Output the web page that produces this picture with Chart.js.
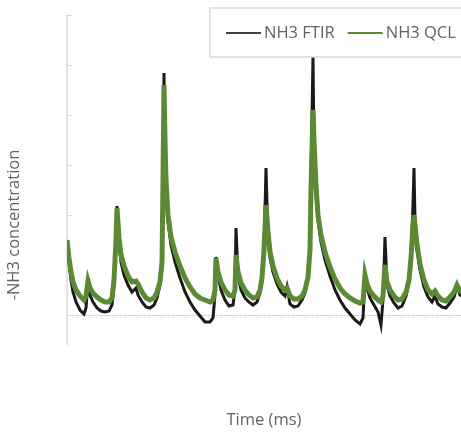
<!DOCTYPE html>
<html>
<head>
<meta charset="utf-8">
<title>NH3 concentration</title>
<script src="https://cdn.jsdelivr.net/npm/chart.js@4.4.1/dist/chart.umd.min.js"></script>
<style>
  html, body { margin: 0; padding: 0; background: #fff; overflow: hidden; }
  #wrap { width: 500px; height: 432px; }
</style>
</head>
<body>
<div id="wrap"><canvas id="nh3-chart" width="500" height="432"></canvas></div>
<script>
// Time positions (ms)
const times = [0, 2, 4, 6, 9, 13, 17, 19, 21, 23, 26, 30, 34, 38, 42, 45, 47, 49, 50, 52,
  54, 57, 61, 65, 69, 71, 75, 79, 83, 87, 90, 93, 95, 96, 97, 98, 99, 101, 104, 108,
  113, 118, 123, 128, 133, 138, 143, 146, 148, 149, 151, 154, 158, 162, 166, 168, 169, 171, 174, 178,
  182, 186, 190, 193, 195, 197, 199, 201, 203, 206, 210, 214, 218, 220, 223, 227, 231, 235, 238, 241,
  243, 244, 246, 247, 249, 251, 254, 258, 263, 268, 273, 278, 283, 288, 293, 296, 298, 300, 303, 307,
  311, 314, 316, 318, 320, 323, 327, 331, 335, 339, 342, 344, 346, 347, 348, 350, 353, 357, 361, 365,
  368, 371, 375, 379, 383, 387, 390, 393, 398];

// NH3 FTIR (black)
const ftirValues = [1.40, 1.06, 0.70, 0.46, 0.26, 0.10, 0.02, 0.14, 0.64, 0.40,
  0.26, 0.14, 0.08, 0.06, 0.08, 0.20, 0.60, 1.54, 2.18, 1.46,
  1.06, 0.80, 0.60, 0.46, 0.54, 0.40, 0.26, 0.16, 0.14, 0.20,
  0.34, 0.60, 1.06, 2.80, 4.84, 3.30, 2.60, 1.86, 1.40, 1.06,
  0.74, 0.46, 0.26, 0.10, -0.02, -0.14, -0.14, -0.06, 0.40, 1.16,
  0.80, 0.50, 0.30, 0.18, 0.20, 0.50, 1.74, 0.80, 0.50, 0.34,
  0.26, 0.20, 0.26, 0.44, 0.70, 1.30, 2.94, 1.54, 1.14, 0.86,
  0.62, 0.46, 0.38, 0.56, 0.22, 0.16, 0.18, 0.30, 0.44, 0.74,
  1.40, 2.70, 5.20, 3.30, 2.40, 1.90, 1.46, 1.10, 0.78, 0.50,
  0.30, 0.14, 0.02, -0.10, -0.18, -0.06, 0.84, 0.54, 0.34, 0.20,
  0.06, -0.20, 0.30, 1.56, 0.60, 0.38, 0.24, 0.14, 0.18, 0.38,
  0.66, 1.20, 2.20, 2.94, 1.90, 1.30, 0.90, 0.56, 0.36, 0.26,
  0.38, 0.22, 0.16, 0.14, 0.24, 0.36, 0.58, 0.40, 0.34];

// NH3 QCL (green)
const qclValues = [1.50, 1.14, 0.86, 0.66, 0.50, 0.38, 0.30, 0.38, 0.68, 0.54,
  0.44, 0.36, 0.30, 0.26, 0.26, 0.34, 0.70, 1.50, 2.14, 1.54,
  1.20, 0.98, 0.78, 0.66, 0.68, 0.62, 0.46, 0.34, 0.30, 0.34,
  0.46, 0.66, 1.06, 2.70, 4.60, 3.50, 2.70, 2.00, 1.56, 1.26,
  0.98, 0.74, 0.56, 0.42, 0.34, 0.30, 0.26, 0.30, 0.50, 1.14,
  0.86, 0.66, 0.50, 0.40, 0.38, 0.50, 1.20, 0.86, 0.64, 0.50,
  0.40, 0.34, 0.36, 0.50, 0.74, 1.30, 2.20, 1.66, 1.26, 0.98,
  0.74, 0.58, 0.50, 0.54, 0.38, 0.32, 0.32, 0.38, 0.50, 0.76,
  1.30, 2.50, 4.10, 3.50, 2.60, 2.00, 1.60, 1.26, 0.96, 0.72,
  0.54, 0.42, 0.34, 0.28, 0.24, 0.26, 0.80, 0.62, 0.48, 0.38,
  0.30, 0.26, 0.38, 1.00, 0.66, 0.50, 0.38, 0.30, 0.32, 0.46,
  0.70, 1.14, 1.80, 2.00, 1.80, 1.40, 1.02, 0.70, 0.50, 0.42,
  0.48, 0.38, 0.30, 0.28, 0.36, 0.46, 0.60, 0.48, 0.44];

// Major ticks on the value axis (no labels shown)
const yTicks = [0, 1, 2, 3, 4, 5, 6];

const seriesLabels = ['NH3 FTIR', 'NH3 QCL'];
const xTitle = 'Time (ms)';
const yTitle = '-NH3 concentration';

const axisColor = '#d9d9d9';
const textColor = '#636363';
const font = '16.5px "Open Sans", sans-serif';

function toPoints(values) {
  return values.map((v, i) => ({ x: times[i], y: v }));
}

// Axis lines and tick marks (Excel style, ticks inside)
const axesPlugin = {
  id: 'axes',
  beforeDatasetsDraw(chart) {
    const { ctx, chartArea, scales } = chart;
    const y0 = scales.y.getPixelForValue(0);
    ctx.save();
    ctx.strokeStyle = axisColor;
    ctx.lineWidth = 1.5;
    ctx.beginPath();
    ctx.moveTo(chartArea.left, chartArea.top);
    ctx.lineTo(chartArea.left, chartArea.bottom);
    ctx.stroke();

    ctx.lineWidth = 1;
    yTicks.forEach(t => {
      const py = Math.round(scales.y.getPixelForValue(t)) + 0.5;
      ctx.beginPath();
      ctx.moveTo(chartArea.left, py);
      ctx.lineTo(chartArea.left + 5, py);
      ctx.stroke();
    });

    // horizontal axis crosses at zero
    ctx.beginPath();
    ctx.moveTo(chartArea.left, Math.round(y0) + 0.5);
    ctx.lineTo(chartArea.right, Math.round(y0) + 0.5);
    ctx.stroke();

    ctx.strokeStyle = '#e6e6e6';
    for (let t = 10; t < scales.x.max; t += 12) {
      const px = Math.round(scales.x.getPixelForValue(t)) + 0.5;
      ctx.beginPath();
      ctx.moveTo(px, y0);
      ctx.lineTo(px, y0 + 4);
      ctx.stroke();
    }
    ctx.restore();
  }
};

// Axis titles and boxed legend drawn over the plot
const overlayPlugin = {
  id: 'overlay',
  afterDraw(chart) {
    const { ctx, chartArea } = chart;
    ctx.save();
    ctx.font = font;
    ctx.fillStyle = textColor;
    ctx.textBaseline = 'middle';

    ctx.textAlign = 'center';
    ctx.fillText(xTitle, 264, 420);

    ctx.save();
    ctx.translate(14, 225);
    ctx.rotate(-Math.PI / 2);
    ctx.fillText(yTitle, 0, 0);
    ctx.restore();

    // legend box
    ctx.strokeStyle = axisColor;
    ctx.lineWidth = 1.5;
    ctx.fillStyle = '#fff';
    ctx.fillRect(210, 8, chartArea.right - 210, 49);
    ctx.strokeRect(210, 8, chartArea.right - 210, 49);

    ctx.textAlign = 'left';
    let x = 226;
    chart.data.datasets.forEach(ds => {
      ctx.strokeStyle = ds.legendColor;
      ctx.lineWidth = 2;
      ctx.beginPath();
      ctx.moveTo(x, 33);
      ctx.lineTo(x + 35, 33);
      ctx.stroke();
      ctx.fillStyle = textColor;
      ctx.fillText(ds.label, x + 38, 33);
      x += 38 + ctx.measureText(ds.label).width + 13;
    });
    ctx.restore();
  }
};

const chart = new Chart(document.getElementById('nh3-chart'), {
  type: 'line',
  data: {
    datasets: [
      {
        label: seriesLabels[0],
        data: toPoints(ftirValues),
        borderColor: '#1a1a1a',
        legendColor: '#404040',
        borderWidth: 3,
        pointRadius: 0,
        tension: 0,
        order: 2
      },
      {
        label: seriesLabels[1],
        data: toPoints(qclValues),
        borderColor: '#5b8a35',
        legendColor: '#5b8a35',
        borderWidth: 5,
        pointRadius: 0,
        tension: 0,
        order: 1
      }
    ]
  },
  options: {
    responsive: false,
    animation: false,
    layout: { padding: { left: 67, top: 15, right: 20, bottom: 87 } },
    plugins: {
      legend: { display: false },
      tooltip: { enabled: false }
    },
    scales: {
      x: { type: 'linear', min: 0, max: 413, display: false },
      y: { min: -0.6, max: 6, display: false }
    }
  },
  plugins: [axesPlugin, overlayPlugin]
});
</script>
</body>
</html>
